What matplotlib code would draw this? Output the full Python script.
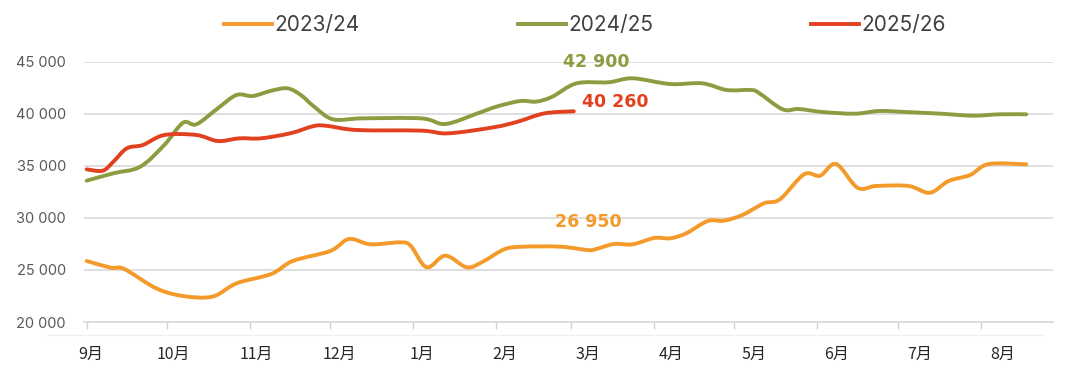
#! /usr/bin/env python3

import matplotlib.pyplot as plt
from matplotlib.lines import Line2D
from matplotlib.path import Path
from matplotlib.patches import PathPatch
import numpy as np

# days since 1 Sep for each reading, and the values
days_2324 = [0, 9, 14, 26, 36, 47, 56, 69, 77, 91, 98, 106, 117, 121, 127, 134, 142,
             148, 156, 163, 177, 187, 190, 197, 204, 212, 218, 224, 232, 238, 245,
             253, 259, 268, 274, 280, 288, 295, 307, 315, 322, 330, 337, 351]
vals_2324 = [25870, 25220, 25100, 23240, 22500, 22440, 23720, 24620, 25870, 26830,
             27980, 27470, 27660, 27340, 25260, 26380, 25260, 25800, 26990, 27240,
             27240, 26920, 26990, 27500, 27470, 28080, 28050, 28530, 29710, 29740,
             30290, 31410, 31800, 34200, 34070, 35190, 32910, 33080, 33080, 32430,
             33560, 34130, 35190, 35160]

days_2425 = [0, 10, 20, 29, 36, 41, 49, 56, 62, 69, 75, 80, 85, 92, 103, 125, 134,
             146, 153, 162, 168, 174, 183, 195, 204, 218, 230, 239, 248, 251, 260,
             266, 275, 287, 296, 306, 319, 331, 341, 351]
vals_2425 = [33590, 34300, 34930, 37020, 39160, 39010, 40550, 41830, 41730, 42240,
             42470, 41830, 40700, 39490, 39580, 39580, 39040, 40060, 40700, 41250,
             41190, 41670, 42950, 43050, 43430, 42880, 42950, 42310, 42310, 42050,
             40450, 40480, 40190, 40030, 40290, 40190, 40030, 39840, 39970, 39970]

days_2526 = [0, 6, 10, 15, 21, 29, 41, 49, 57, 65, 76, 85, 90, 101, 125, 135, 152,
             161, 171, 182]
vals_2526 = [34680, 34550, 35420, 36700, 37020, 37980, 37980, 37400, 37660, 37660,
             38140, 38850, 38850, 38460, 38400, 38140, 38720, 39260, 40060, 40260]

seasons = ['2023/24', '2024/25', '2025/26']
colors = ['#F39A2B', '#8C9C40', '#E2411F']
months = ['9月', '10月', '11月', '12月', '1月', '2月', '3月', '4月', '5月', '6月', '7月', '8月']
month_len = [30, 31, 30, 31, 31, 28, 31, 30, 31, 30, 31, 31]
notes = ['26 950', '42 900', '40 260']


def smooth_path(x, y):
    # excel-style smoothed line: cubic bezier segments through every point
    p = np.column_stack([x, y]).astype(float)
    verts = [p[0]]
    codes = [Path.MOVETO]
    for i in range(len(p) - 1):
        p0 = p[max(i - 1, 0)]
        p3 = p[min(i + 2, len(p) - 1)]
        c1 = p[i] + (p[i + 1] - p0) / 6
        c2 = p[i + 1] - (p3 - p[i]) / 6
        verts += [c1, c2, p[i + 1]]
        codes += [Path.CURVE4] * 3
    return Path(verts, codes)


plt.rcParams['font.family'] = ['Inter', 'Noto Sans CJK SC', 'DejaVu Sans']

fig = plt.figure(figsize=(10.8, 3.71), dpi=100)
ax = fig.add_axes([84 / 1080, 49 / 371, (1053 - 84) / 1080, (322 - 62) / 371])

series = [(days_2324, vals_2324), (days_2425, vals_2425), (days_2526, vals_2526)]
handles = []
for (d, v), c, lab in zip(series, colors, seasons):
    ax.add_patch(PathPatch(smooth_path(d, v), facecolor='none', edgecolor=c, lw=2.8,
                           joinstyle='round', capstyle='round', zorder=3))
    handles.append(Line2D([], [], color=c, lw=2.8, label=lab))

ax.set_xlim(-1, 361)
ax.set_ylim(20000, 45000)

ax.set_yticks(range(20000, 45001, 5000))
ax.set_yticklabels([f'{v // 1000} 000' for v in range(20000, 45001, 5000)],
                   color='#595959', fontsize=10.5)
ax.grid(axis='y', color='#d9d9d9', lw=1.2)
ax.set_axisbelow(True)
ax.tick_params(axis='y', length=0, pad=13)

starts = np.concatenate([[0], np.cumsum(month_len)[:-1]])
ax.set_xticks(starts)
ax.set_xticklabels([])
ax.set_xticks(1.5 + 30.97 * np.arange(12), minor=True)
ax.set_xticklabels(months, minor=True, family=['Noto Sans CJK SC'], fontsize=11.5,
                   color='#262626')
ax.tick_params(axis='x', which='major', length=5, color='#d0d0d0', width=1)
ax.tick_params(axis='x', which='minor', length=0, pad=17)

for s in ['top', 'right', 'left']:
    ax.spines[s].set_visible(False)
ax.spines['bottom'].set_color('#d9d9d9')
ax.spines['bottom'].set_linewidth(1.2)

# faint rule under the axis
fig.add_artist(Line2D([47 / 1080, 1043 / 1080], [36 / 371, 36 / 371],
                      color='#efefef', lw=0.8))

# value labels
lab_kw = dict(textcoords='offset points', ha='center', va='center',
              fontsize=12.5, fontweight='bold', family='DejaVu Sans')
ax.annotate(notes[0], (days_2324[22], vals_2324[22]), xytext=(-5, 19.5),
            color=colors[0], **lab_kw)
ax.annotate(notes[1], (days_2425[22], vals_2425[22]), xytext=(14, 15),
            color=colors[1], **lab_kw)
ax.annotate(notes[2], (days_2526[-1], vals_2526[-1]), xytext=(30, 7),
            color=colors[2], **lab_kw)

fig.legend(handles=handles, loc='center', bbox_to_anchor=(585 / 1080, 346 / 371),
           ncol=3, frameon=False, fontsize=15, handlelength=2.3, handletextpad=0.1,
           columnspacing=7.6, labelcolor='#404040')

fig.savefig('out.png', dpi=100)
